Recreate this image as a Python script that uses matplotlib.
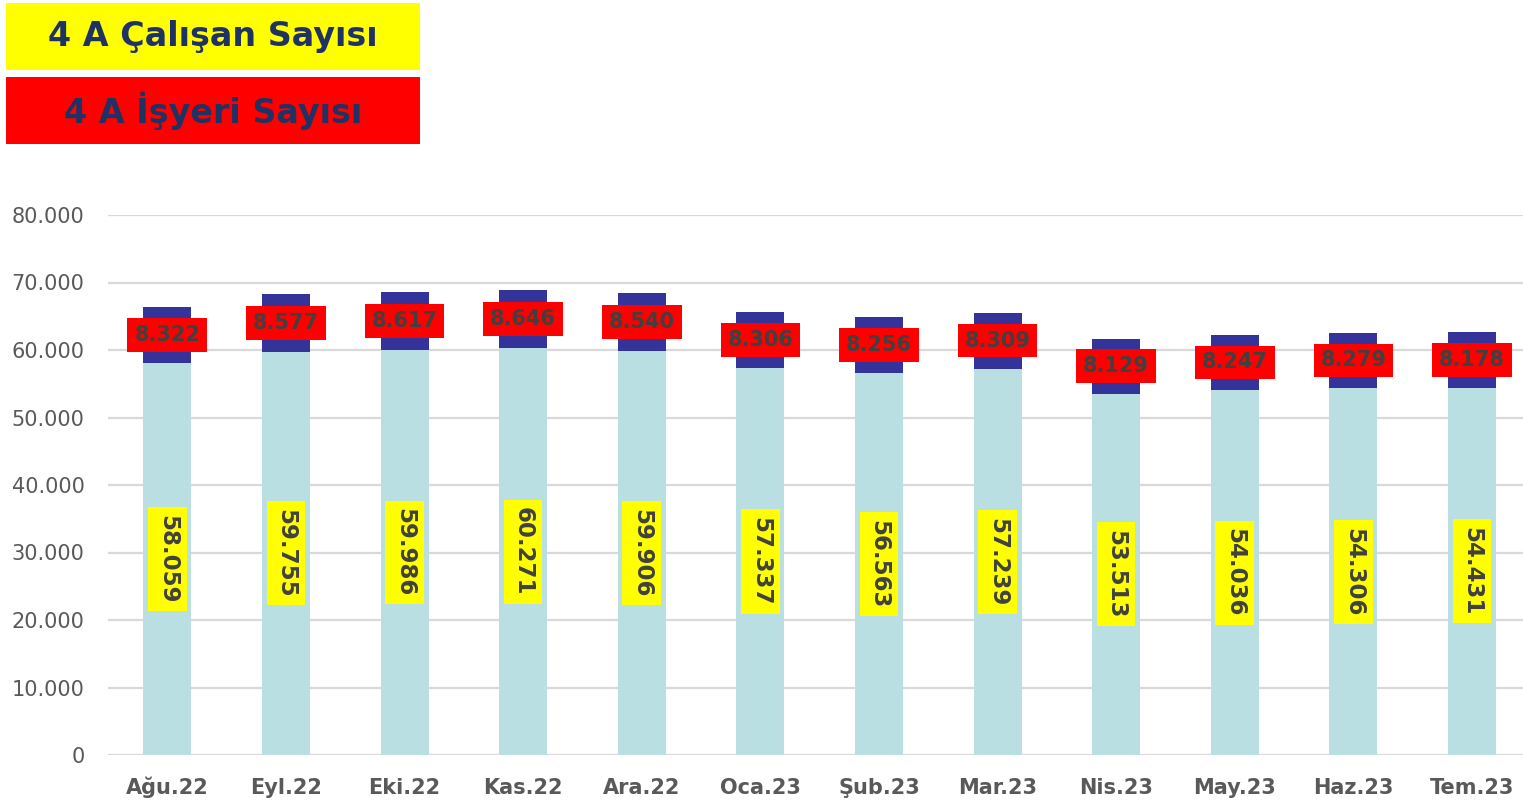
import matplotlib
matplotlib.use("Agg")
import matplotlib.pyplot as plt
from matplotlib.patches import Rectangle
from matplotlib.ticker import FuncFormatter, MultipleLocator

months = ['Ağu.22', 'Eyl.22', 'Eki.22', 'Kas.22', 'Ara.22', 'Oca.23',
          'Şub.23', 'Mar.23', 'Nis.23', 'May.23', 'Haz.23', 'Tem.23']
calisan = [58059, 59755, 59986, 60271, 59906, 57337, 56563, 57239, 53513, 54036, 54306, 54431]
isyeri = [8322, 8577, 8617, 8646, 8540, 8306, 8256, 8309, 8129, 8247, 8279, 8178]
legend_labels = ['4 A Çalışan Sayısı', '4 A İşyeri Sayısı']


def tr(v):
    return f"{v:,.0f}".replace(',', '.')


plt.rcParams['font.family'] = ['DejaVu Sans']

fig = plt.figure(figsize=(15.23, 8), dpi=100)
ax = fig.add_axes([108 / 1523, 45 / 800, (1523 - 108) / 1523, 540 / 800])

x = list(range(len(months)))
light = '#B9DFE3'
dark = '#333399'
ax.bar(x, calisan, width=0.405, color=light, zorder=2)
ax.bar(x, isyeri, width=0.405, bottom=calisan, color=dark, zorder=2)

for i in x:
    ax.text(i, calisan[i] / 2, tr(calisan[i]), rotation=270, ha='center', va='center',
            fontsize=16.5, fontweight='bold', color='#404040', zorder=4,
            bbox=dict(boxstyle='square,pad=0.34', facecolor='#FFFF00', edgecolor='none'))
    ax.text(i, calisan[i] + isyeri[i] / 2, tr(isyeri[i]), ha='center', va='center',
            fontsize=15, fontweight='bold', color='#404040', zorder=4,
            bbox=dict(boxstyle='square,pad=0.33', facecolor='#FF0000', edgecolor='none'))

ax.set_xlim(-0.5, 11.43)
ax.set_ylim(0, 80000)
ax.yaxis.set_major_locator(MultipleLocator(10000))
ax.yaxis.set_major_formatter(FuncFormatter(lambda v, p: tr(v)))
ax.set_xticks(x)
ax.set_xticklabels(months, fontsize=15, fontweight='bold', color='#595959', va='baseline')
ax.tick_params(axis='y', length=0, pad=17, labelsize=15, labelcolor='#595959')
ax.tick_params(axis='x', length=0, pad=28)
for s in ax.spines.values():
    s.set_visible(False)
ax.grid(axis='y', color='#D9D9D9', linewidth=1.6, zorder=0)
ax.set_axisbelow(True)

# legend boxes
W, H = 1523, 800
boxes = [(6, 3, 414, 67, '#FFFF00'), (6, 77, 414, 67, '#FF0000')]
for (bx, by, bw, bh, col), lab in zip(boxes, legend_labels):
    fig.patches.append(Rectangle((bx / W, 1 - (by + bh) / H), bw / W, bh / H,
                                 transform=fig.transFigure, facecolor=col,
                                 edgecolor='none', zorder=1))
    fig.text((bx + bw / 2) / W, 1 - (by + bh / 2) / H, lab, ha='center', va='center',
             fontsize=24, fontweight='bold', color='#1F3264', zorder=2)

fig.savefig('out.png', dpi=100)
